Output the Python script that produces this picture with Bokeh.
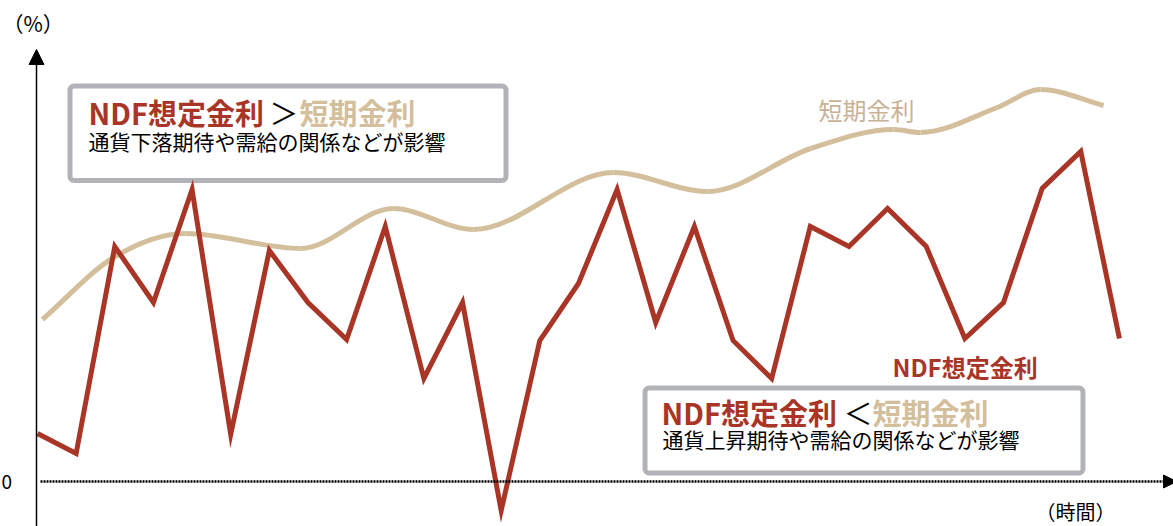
from bokeh.plotting import figure
from bokeh.models import Range1d, BoxAnnotation, Arrow, NormalHead
from bokeh.core.properties import value
from bokeh.embed import file_html
from bokeh.resources import INLINE
import numpy as np

# ---- data ----
periods = list(range(29))
ndf_rate = [4.8, 2.8, 23.5, 17.9, 29.2, 4.7, 23.1, 17.9, 14.2, 25.5, 10.3, 17.9, -2.9, 14.1,
            19.8, 29.2, 15.9, 25.5, 14.1, 10.3, 25.5, 23.5, 27.3, 23.5, 14.3, 17.9, 29.3, 33.0, 14.3]
short_x = [0.13, 1.97, 3.83, 6.81, 9.21, 11.28, 14.91, 17.34, 20.01, 22.15, 22.85, 24.84, 25.96, 27.59]
short_rate = [16.2, 22.4, 24.8, 23.3, 27.3, 25.2, 30.9, 29.0, 33.3, 35.2, 34.9, 37.4, 39.2, 37.6]

RED = "#a93526"
BEIGE = "#d3bf9c"
BEIGE_TXT = "#c9b196"
GRAY = "#b2b3b7"
JP = value("Noto Sans CJK JP")

# page pixel -> data units helpers
def X(px):
    return (px - 37) / 38.64

def Y(py):
    return (481 - py) / 10.0

p = figure(width=1173, height=526, output_backend="svg", toolbar_location=None,
           x_axis_type=None, y_axis_type=None,
           x_range=Range1d(X(0), X(1173)), y_range=Range1d(Y(526), Y(0)),
           min_border=0, outline_line_color=None)
p.grid.visible = False
p.background_fill_color = "white"

# boxes
p.add_layout(BoxAnnotation(left=X(69.5), right=X(505.5), top=Y(85.5), bottom=Y(180),
                           fill_color="white", fill_alpha=1, line_color=GRAY, line_width=5,
                           line_alpha=1, border_radius=4, level="underlay"))
p.add_layout(BoxAnnotation(left=X(644.5), right=X(1082.5), top=Y(387.5), bottom=Y(472.5),
                           fill_color="white", fill_alpha=1, line_color=GRAY, line_width=5,
                           line_alpha=1, border_radius=4, level="underlay"))

# axes
p.add_layout(Arrow(x_start=X(36), y_start=Y(530), x_end=X(36), y_end=Y(49),
                   line_color="black", line_width=1.5,
                   end=NormalHead(size=15, fill_color="black", line_color="black", line_width=1)))
p.add_layout(Arrow(x_start=X(40), y_start=0, x_end=X(1176), y_end=0,
                   line_color="black", line_width=2.5, line_dash="2 1",
                   end=NormalHead(size=13, fill_color="black", line_color="black", line_width=1)))

# short-term rate: smooth curve through key points (cubic Hermite -> Bezier)
sx = np.array(short_x)
sy = np.array(short_rate)
sec = np.diff(sy) / np.diff(sx)
m = np.zeros_like(sy)
m[0] = sec[0]
m[-1] = sec[-1]
for i in range(1, len(sy) - 1):
    if sec[i - 1] * sec[i] > 0:
        m[i] = 0.5 * (sec[i - 1] + sec[i])
h = np.diff(sx)
x0 = sx[:-1]; y0 = sy[:-1]
x1 = sx[1:]; y1 = sy[1:]
cx0 = x0 + h / 3; cy0 = y0 + m[:-1] * h / 3
cx1 = x1 - h / 3; cy1 = y1 - m[1:] * h / 3
p.bezier(x0=x0, y0=y0, x1=x1, y1=y1, cx0=cx0, cy0=cy0, cx1=cx1, cy1=cy1,
         line_color=BEIGE, line_width=5)

# NDF rate
p.line(periods, ndf_rate, line_color=RED, line_width=5, line_join="miter")

# texts
def txt(x, y, s, color="black", size="20px", bold=False, align="left"):
    p.text(x=[X(x)], y=[Y(y)], text=[s], text_color=color, text_font=JP,
           text_font_size=size, text_font_style="bold" if bold else "normal",
           text_align=align, text_baseline="middle")

txt(2, 22, "（%）", size="21px")
txt(1, 481, "0", size="19px")
txt(1075, 511, "（時間）", size="20px", align="center")

txt(88, 111, "NDF想定金利", RED, "29px", True)
txt(269, 111, "＞", "black", "29px")
txt(299, 111, "短期金利", BEIGE, "29px", True)
txt(88, 140, "通貨下落期待や需給の関係などが影響", "black", "21px")

txt(661, 411, "NDF想定金利", RED, "29px", True)
txt(843, 411, "＜", "black", "29px")
txt(872, 411, "短期金利", BEIGE, "29px", True)
txt(662, 438, "通貨上昇期待や需給の関係などが影響", "black", "21px")

txt(818, 109, "短期金利", BEIGE_TXT, "24px")
txt(892, 366, "NDF想定金利", RED, "24px", True)

open("out.html", "w").write(file_html(p, INLINE))
